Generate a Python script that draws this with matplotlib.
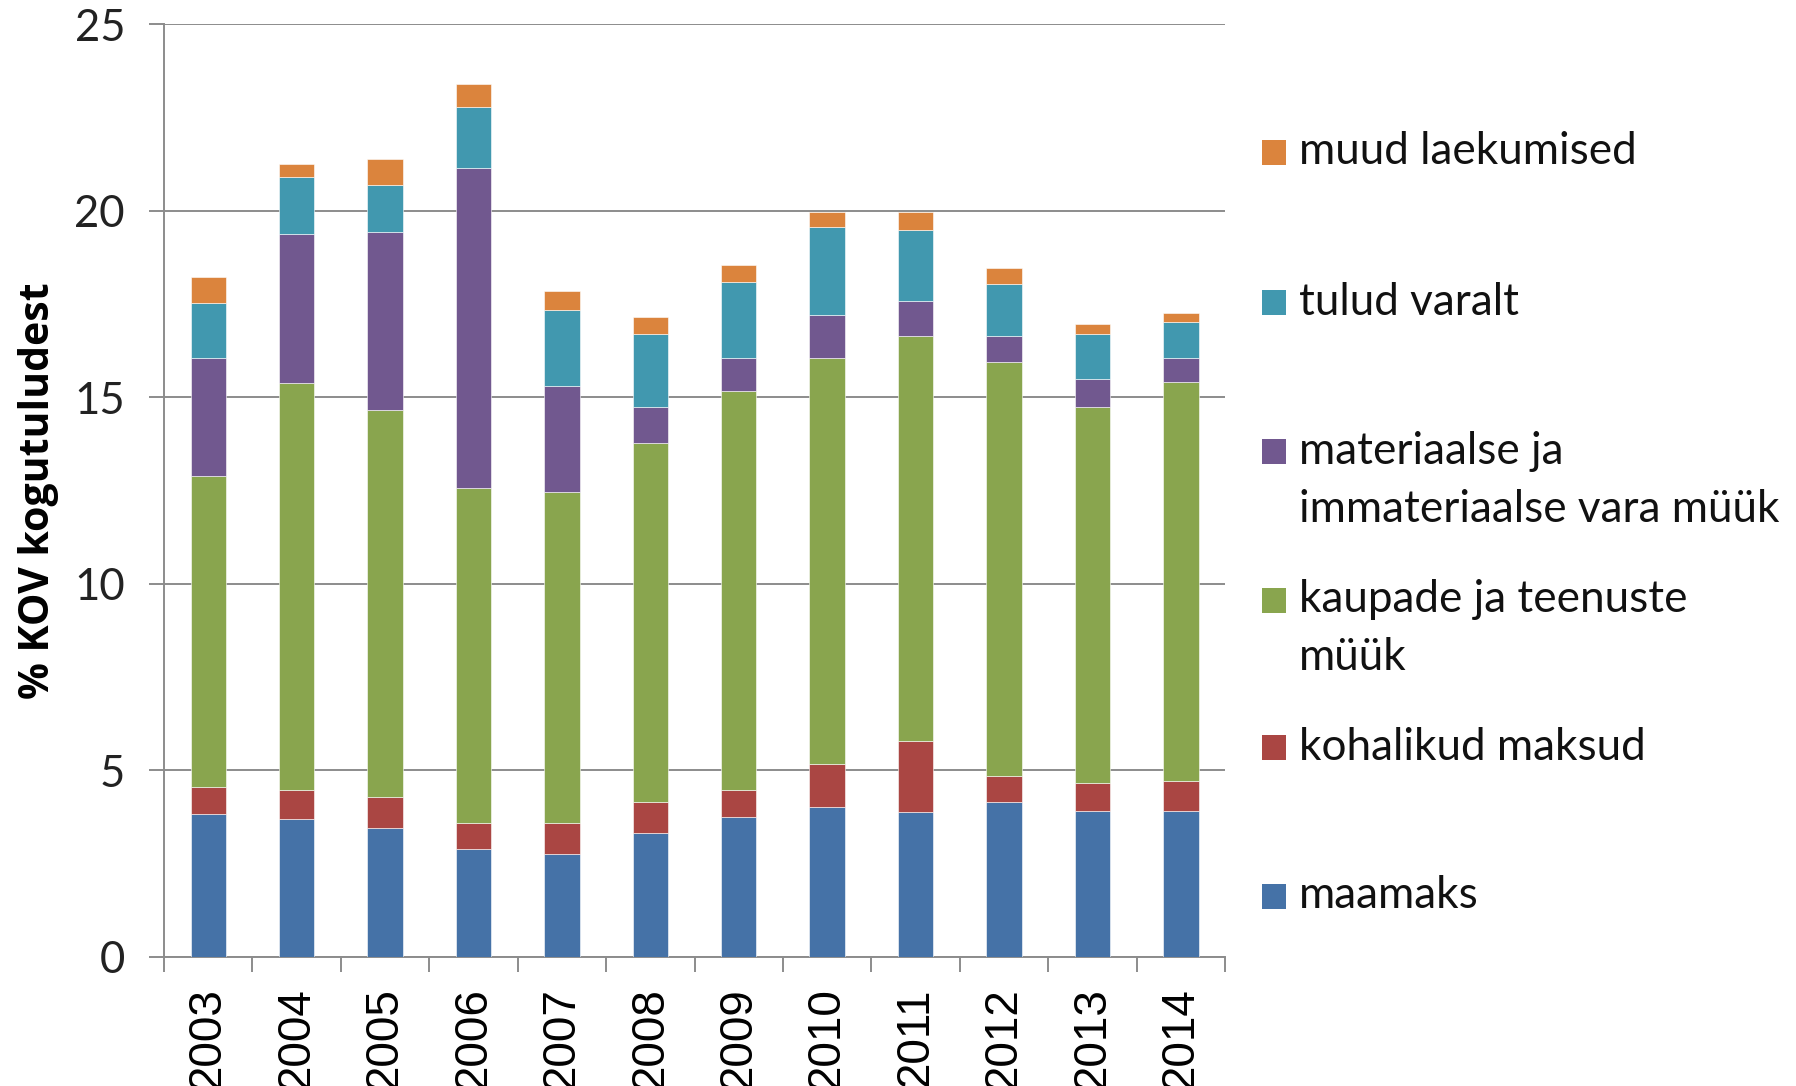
import matplotlib
matplotlib.use("Agg")
import matplotlib.pyplot as plt
from matplotlib.patches import Rectangle
import numpy as np

years = ["2003", "2004", "2005", "2006", "2007", "2008",
         "2009", "2010", "2011", "2012", "2013", "2014"]

maamaks     = [3.84, 3.70, 3.45, 2.89, 2.75, 3.33, 3.76, 4.02, 3.89, 4.15, 3.90, 3.90]
kohalikud   = [0.71, 0.77, 0.83, 0.69, 0.83, 0.82, 0.71, 1.14, 1.90, 0.70, 0.76, 0.82]
kaupad      = [8.35, 10.90, 10.39, 9.00, 8.87, 9.63, 10.70, 10.90, 10.85, 11.08, 10.07, 10.70]
materiaalse = [3.16, 4.00, 4.75, 8.56, 2.85, 0.95, 0.89, 1.15, 0.94, 0.71, 0.75, 0.64]
tulud       = [1.47, 1.52, 1.27, 1.64, 2.03, 1.97, 2.03, 2.34, 1.90, 1.39, 1.22, 0.95]
muud        = [0.69, 0.37, 0.69, 0.62, 0.52, 0.44, 0.44, 0.40, 0.47, 0.43, 0.25, 0.25]

series = [maamaks, kohalikud, kaupad, materiaalse, tulud, muud]
labels = ["maamaks", "kohalikud maksud", "kaupade ja teenuste\nmüük",
          "materiaalse ja\nimmateriaalse vara müük", "tulud varalt",
          "muud laekumised"]
colors = ["#4572A7", "#AA4643", "#89A54E", "#71588F", "#4198AF", "#DB843D"]

grid_col = "#8C8C8C"

fig = plt.figure(figsize=(17.96, 10.86), dpi=100)
ax = fig.add_axes([0.0913, 0.1188, 0.5908, 0.8591])

x = np.arange(len(years))
bottom = np.zeros(len(years))
for vals, col in zip(series, colors):
    ax.bar(x, vals, width=0.4, bottom=bottom, color=col,
           edgecolor="white", linewidth=0.4, zorder=3)
    bottom += np.array(vals)

ax.set_xlim(-0.5, len(years) - 0.5)
ax.set_ylim(0, 25)
ax.set_yticks(range(0, 26, 5))
ax.yaxis.grid(True, color=grid_col, linewidth=1.4, zorder=0)
ax.set_axisbelow(True)

for s in ["top", "right"]:
    ax.spines[s].set_visible(False)
for s in ["left", "bottom"]:
    ax.spines[s].set_color(grid_col)
    ax.spines[s].set_linewidth(1.4)

ax.tick_params(axis="y", length=11, width=1.4, color=grid_col, pad=17,
               labelsize=31.5)
for t in ax.get_yticklabels():
    t.set_fontfamily("Lato")
    t.set_color("#222222")

ax.set_xticks(x)
ax.set_xticklabels(years, rotation=90, fontsize=33,
                   fontfamily="Liberation Sans", va="top")
ax.set_xticks(np.arange(-0.5, len(years)), minor=True)
ax.tick_params(axis="x", which="major", length=0, pad=22)
ax.tick_params(axis="x", which="minor", length=11, width=1.4,
               color=grid_col, direction="out")

ax.set_ylabel("% KOV kogutuludest", fontsize=29.5, fontweight="bold",
              fontfamily="Open Sans")
ax.yaxis.set_label_coords(-0.0994, 0.5)

# legend drawn by hand, top entry first (like Excel)
leg_y = [896, 747, 600, 451, 302, 152]
line_gap = 58
H = 1086.0
W = 1796.0
for lab, col, yc in zip(labels, colors, leg_y):
    fig.patches.append(Rectangle((1262 / W, 1 - (yc + 12.5) / H), 24 / W, 25 / H,
                                 transform=fig.transFigure, facecolor=col,
                                 edgecolor="none"))
    for i, line in enumerate(lab.split("\n")):
        fig.text(1299 / W, 1 - (yc + i * line_gap) / H, line,
                 fontsize=31.7, fontfamily="Lato", va="center", ha="left",
                 color="#111111")

fig.savefig("out.png", dpi=100, facecolor="white")
